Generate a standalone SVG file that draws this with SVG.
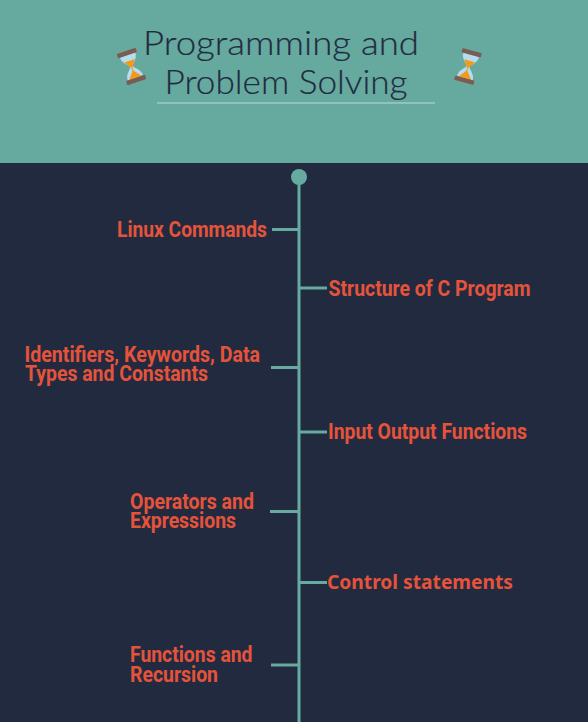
<svg xmlns="http://www.w3.org/2000/svg" width="588" height="722" viewBox="0 0 588 722">
<style>
.title{font-family:"Lato","Inter",sans-serif;font-weight:300;font-size:34px;fill:#222b41;stroke:#222b41;stroke-width:0.2;text-anchor:middle}
.lbl{font-family:"Roboto","Liberation Sans",sans-serif;font-weight:700;font-size:22px;fill:#e5533a}
.ctl{font-family:"Noto Sans","Open Sans",sans-serif;font-weight:700;font-size:20px;fill:#e5533a}
.line{stroke:#67aaa0;stroke-width:3;fill:none}
</style>
<defs>
<g id="glass">
<path d="M-8-12C-8.500-6-2.500-3-1.500 0C-2.500 3-8.500 6-8 12H8C8.500 6 2.500 3 1.500 0C2.500-3 8.500-6 8-12Z" fill="#b5dcf0"/>
<path d="M-5.500-6H5.500L1 1H-1Z" fill="#f59a14"/>
<path d="M0 4L6.500 12H-6.500Z" fill="#f59a14"/>
<rect x="-0.500" y="0" width="1" height="5" fill="#f59a14"/>
<rect x="-10" y="-16.500" width="20" height="4.500" rx="1" fill="#7a5c52"/>
<rect x="-10" y="12" width="20" height="4.500" rx="1" fill="#7a5c52"/>
</g>
</defs>
<rect width="588" height="722" fill="#222a40"/>
<rect id="header" width="588" height="163" fill="#66a99f"/>
<g id="title">
<text class="title" x="281" y="55" textLength="276" lengthAdjust="spacingAndGlyphs">Programming and</text>
<text class="title" x="286" y="94" textLength="243" lengthAdjust="spacingAndGlyphs">Problem Solving</text>
<rect x="157" y="102.500" width="278" height="1" fill="#b5dcd6"/>
<use href="#glass" transform="translate(131.500 66.500) rotate(-19)"/>
<use href="#glass" transform="translate(468 66.500) rotate(15)"/>
</g>
<g id="connectors">
<path class="line" d="M299 180V722"/>
<path class="line" d="M272 229.500H299M299 288H327M271 367.500H299M299 432H327M270 511.500H299M299 582.500H327M271 665H299"/>
</g>
<circle id="start" cx="299" cy="177" r="8" fill="#67aaa0"/>
<g id="n1"><text class="lbl" x="117" y="236.500" textLength="150" lengthAdjust="spacingAndGlyphs">Linux Commands</text></g>
<g id="n2"><text class="lbl" x="328.500" y="295.500" textLength="202" lengthAdjust="spacingAndGlyphs">Structure of C Program</text></g>
<g id="n3"><text class="lbl" x="24.500" y="361.500" textLength="235.500" lengthAdjust="spacingAndGlyphs">Identifiers, Keywords, Data</text><text class="lbl" x="25" y="381" textLength="183" lengthAdjust="spacingAndGlyphs">Types and Constants</text></g>
<g id="n4"><text class="lbl" x="328" y="438.500" textLength="199" lengthAdjust="spacingAndGlyphs">Input Output Functions</text></g>
<g id="n5"><text class="lbl" x="130" y="508.500" textLength="124" lengthAdjust="spacingAndGlyphs">Operators and</text><text class="lbl" x="130" y="528" textLength="106" lengthAdjust="spacingAndGlyphs">Expressions</text></g>
<g id="n6"><text class="ctl" x="327" y="589" textLength="186" lengthAdjust="spacingAndGlyphs">Control statements</text></g>
<g id="n7"><text class="lbl" x="130" y="661.500" textLength="122.500" lengthAdjust="spacingAndGlyphs">Functions and</text><text class="lbl" x="130" y="681.500" textLength="88" lengthAdjust="spacingAndGlyphs">Recursion</text></g>
</svg>
